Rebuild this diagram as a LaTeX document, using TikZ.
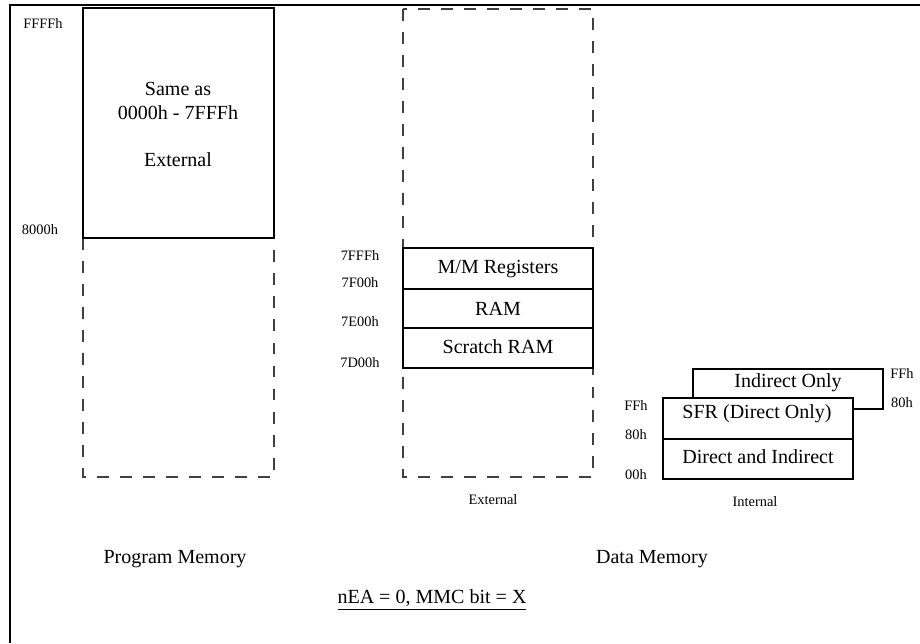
\documentclass[tikz,border=0pt]{standalone}
\usepackage{fontspec}
\setmainfont{Liberation Serif}

\begin{document}
\begin{tikzpicture}[x=0.02cm,y=-0.02cm,
  big/.style={font=\fontsize{11.4}{13.5}\selectfont},
  tiny/.style={font=\fontsize{8.2}{10}\selectfont},
  dashbox/.style={black!75,line width=0.6pt,dash pattern=on 6.8pt off 6.3pt},
  solidbox/.style={line width=1pt}]
\useasboundingbox (0,0) rectangle (920,643);
% frame
\draw[line width=1.5pt] (10,643) -- (10,5) -- (920,5);
% program memory
\draw[dashbox] (83,8) rectangle (274,477);
\draw[solidbox,fill=white] (83,8) rectangle (274,238);
\node[tiny] (pffff) at (43,23) {FFFFh};
\node[tiny] (p8000) at (40,230) {8000h};
\node[big,align=center] (same) at (178,101) {Same as\\0000h - 7FFFh};
\node[big] (pext) at (178,160) {External};
\node[big] (prog) at (175,559) {Program Memory};
% external data memory
\draw[dashbox] (403,9) rectangle (593,477);
\draw[solidbox,fill=white] (403,248) rectangle (593,368);
\draw[solidbox] (403,289) -- (593,289);
\draw[solidbox] (403,328) -- (593,328);
\node[big] (mmr) at (498,269) {M/M Registers};
\node[big] (ram) at (498,309) {RAM};
\node[big] (scr) at (498,347) {Scratch RAM};
\node[tiny] (a7fff) at (360,255) {7FFFh};
\node[tiny] (a7f00) at (360,283) {7F00h};
\node[tiny] (a7e00) at (360,322) {7E00h};
\node[tiny] (a7d00) at (360,363) {7D00h};
\node[tiny] (dext) at (493,500) {External};
% internal data memory
\draw[solidbox,fill=white] (693,369) rectangle (883,409);
\draw[solidbox,fill=white] (663,398) rectangle (853,479);
\draw[solidbox] (663,439) -- (853,439);
\node[big] (indo) at (788,383) {Indirect Only};
\node[big] (sfr) at (757,414) {SFR (Direct Only)};
\node[big] (dai) at (758,457) {Direct and Indirect};
\node[tiny] (iffr) at (902,373) {FFh};
\node[tiny] (i80r) at (902,403) {80h};
\node[tiny] (iffl) at (636,405) {FFh};
\node[tiny] (i80l) at (636,435) {80h};
\node[tiny] (i00l) at (636,475) {00h};
\node[tiny] (dint) at (755,502) {Internal};
\node[big] (data) at (652,559) {Data Memory};
% mode
\node[big] (mode) at (432,600) {\underline{nEA = 0, MMC bit = X}};
\end{tikzpicture}
\end{document}
